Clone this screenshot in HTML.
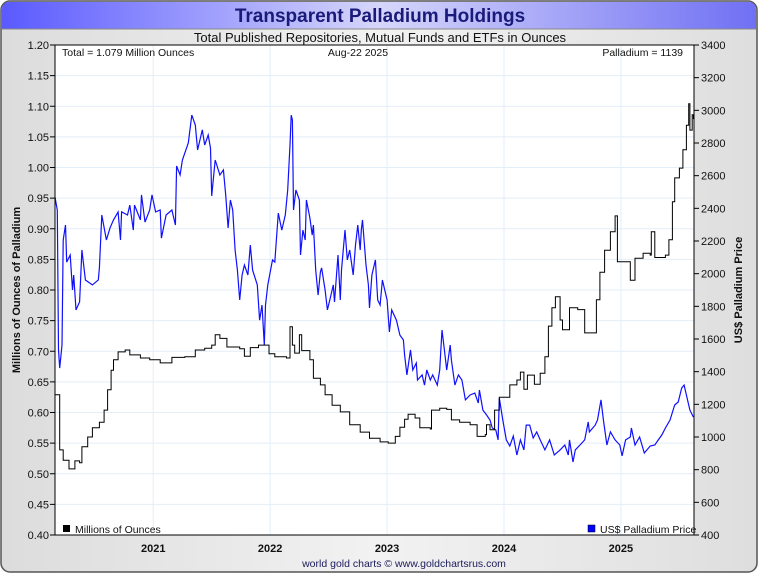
<!DOCTYPE html>
<html><head><meta charset="utf-8"><style>
html,body{margin:0;padding:0;background:#fff;}
#wrap{position:relative;width:760px;height:575px;overflow:hidden;font-family:"Liberation Sans",sans-serif;}
</style></head><body>
<div id="wrap">
<svg id="chart" width="760" height="575" xmlns="http://www.w3.org/2000/svg">
<defs>
<linearGradient id="hdr" x1="0" x2="1" y1="0" y2="0">
<stop offset="0" stop-color="#5a5aff"/><stop offset="0.5" stop-color="#d6d6fb"/><stop offset="1" stop-color="#7070f4"/>
</linearGradient>
<linearGradient id="bg" x1="0" x2="1" y1="0" y2="0">
<stop offset="0" stop-color="#dcdcdc"/><stop offset="0.5" stop-color="#f2f2f2"/><stop offset="1" stop-color="#dedede"/>
</linearGradient>
</defs>
<rect x="1" y="1" width="756" height="571" rx="9" fill="url(#bg)" stroke="#555" stroke-width="1.5"/>
<path d="M2,29 L2,10 Q2,2 10,2 L748,2 Q756,2 756,10 L756,29 Z" fill="url(#hdr)"/>
<line x1="2" y1="29" x2="756" y2="29" stroke="#888" stroke-width="1"/>
<text x="380" y="22" text-anchor="middle" font-size="19" font-weight="bold" fill="#1a1a7a">Transparent Palladium Holdings</text>
<text x="380" y="42" text-anchor="middle" font-size="13" fill="#111">Total Published Repositories, Mutual Funds and ETFs in Ounces</text>
<rect x="55" y="45" width="639" height="490" fill="#fff"/>
<g id="grid"></g>
<g id="series"></g>
<g id="axes"></g>
<text x="62" y="56" font-size="10.5" fill="#111">Total = 1.079 Million Ounces</text>
<text x="358" y="56" text-anchor="middle" font-size="10.5" fill="#111">Aug-22  2025</text>
<text x="683" y="56" text-anchor="end" font-size="10.5" fill="#111">Palladium = 1139</text>
<g><rect x="63" y="525" width="7" height="7" fill="#000"/><text x="75" y="533" font-size="10.5" fill="#111">Millions of Ounces</text></g>
<g><rect x="588" y="525" width="7" height="7" fill="#00f" stroke="#000" stroke-width="0.5"/><text x="600" y="533" font-size="10.5" fill="#111">US$ Palladium Price</text></g>
<text transform="translate(20,290) rotate(-90)" text-anchor="middle" font-size="11" font-weight="bold" fill="#111">Millions of Ounces of Palladium</text>
<text transform="translate(742,290) rotate(-90)" text-anchor="middle" font-size="11" font-weight="bold" fill="#111">US$ Palladium Price</text>
<text x="404" y="567" text-anchor="middle" font-size="10.5" fill="#1a1a5a">world gold charts © www.goldchartsrus.com</text>
</svg>
</div>
<script>
const leftTicks=[0.40,0.45,0.50,0.55,0.60,0.65,0.70,0.75,0.80,0.85,0.90,0.95,1.00,1.05,1.10,1.15,1.20];
const rightTicks=[400,600,800,1000,1200,1400,1600,1800,2000,2200,2400,2600,2800,3000,3200,3400];
const yearTicks=[2021,2022,2023,2024,2025];
const holdDates=[2020.16,2020.20,2020.23,2020.28,2020.33,2020.37,2020.39,2020.44,2020.48,2020.54,2020.58,2020.61,2020.64,2020.66,2020.70,2020.76,2020.80,2020.89,2020.97,2021.06,2021.16,2021.27,2021.36,2021.44,2021.50,2021.53,2021.57,2021.63,2021.74,2021.78,2021.83,2021.90,2021.99,2022.04,2022.14,2022.17,2022.19,2022.21,2022.25,2022.27,2022.34,2022.37,2022.43,2022.47,2022.53,2022.60,2022.68,2022.77,2022.85,2022.94,2023.01,2023.07,2023.11,2023.15,2023.18,2023.24,2023.28,2023.37,2023.38,2023.45,2023.51,2023.55,2023.62,2023.71,2023.77,2023.84,2023.85,2023.88,2023.92,2023.96,2024.03,2024.05,2024.11,2024.14,2024.17,2024.20,2024.26,2024.31,2024.35,2024.38,2024.41,2024.44,2024.48,2024.50,2024.56,2024.63,2024.69,2024.76,2024.79,2024.82,2024.86,2024.91,2024.95,2024.97,2025.06,2025.08,2025.12,2025.19,2025.25,2025.26,2025.29,2025.38,2025.41,2025.44,2025.46,2025.50,2025.53,2025.56,2025.58,2025.59,2025.61,2025.62];
const holdValues=[0.629,0.539,0.522,0.508,0.521,0.518,0.544,0.560,0.575,0.584,0.604,0.637,0.669,0.686,0.699,0.702,0.694,0.689,0.686,0.681,0.690,0.691,0.702,0.705,0.710,0.727,0.721,0.707,0.704,0.692,0.706,0.710,0.696,0.691,0.689,0.740,0.710,0.697,0.727,0.701,0.686,0.656,0.645,0.629,0.612,0.601,0.580,0.568,0.558,0.552,0.550,0.561,0.576,0.589,0.597,0.591,0.575,0.573,0.604,0.607,0.605,0.588,0.584,0.580,0.561,0.564,0.580,0.572,0.604,0.625,0.625,0.645,0.653,0.666,0.638,0.661,0.646,0.664,0.691,0.741,0.771,0.789,0.751,0.735,0.771,0.768,0.730,0.730,0.784,0.829,0.865,0.895,0.921,0.846,0.846,0.816,0.852,0.860,0.857,0.895,0.853,0.857,0.882,0.944,0.983,0.999,1.029,1.069,1.104,1.061,1.086,1.079];
const priceDates=[2020.16,2020.18,2020.19,2020.20,2020.22,2020.23,2020.25,2020.26,2020.29,2020.31,2020.32,2020.34,2020.37,2020.39,2020.42,2020.48,2020.53,2020.54,2020.56,2020.60,2020.63,2020.66,2020.70,2020.72,2020.73,2020.78,2020.80,2020.83,2020.84,2020.89,2020.90,2020.93,2020.97,2020.99,2021.02,2021.06,2021.07,2021.11,2021.16,2021.19,2021.20,2021.23,2021.25,2021.30,2021.33,2021.36,2021.38,2021.42,2021.44,2021.47,2021.49,2021.50,2021.53,2021.57,2021.60,2021.62,2021.64,2021.66,2021.68,2021.70,2021.72,2021.74,2021.76,2021.78,2021.81,2021.83,2021.85,2021.89,2021.91,2021.93,2021.95,2021.96,2021.98,2022.02,2022.04,2022.07,2022.10,2022.13,2022.15,2022.17,2022.18,2022.19,2022.20,2022.22,2022.25,2022.26,2022.28,2022.30,2022.31,2022.34,2022.36,2022.37,2022.39,2022.41,2022.43,2022.44,2022.47,2022.49,2022.51,2022.54,2022.55,2022.58,2022.60,2022.61,2022.64,2022.66,2022.68,2022.71,2022.73,2022.75,2022.77,2022.78,2022.79,2022.82,2022.84,2022.85,2022.87,2022.90,2022.92,2022.94,2022.96,2023.00,2023.02,2023.04,2023.08,2023.11,2023.14,2023.15,2023.17,2023.20,2023.22,2023.25,2023.26,2023.30,2023.32,2023.34,2023.37,2023.39,2023.43,2023.45,2023.47,2023.49,2023.51,2023.54,2023.55,2023.58,2023.61,2023.64,2023.67,2023.71,2023.75,2023.78,2023.79,2023.82,2023.85,2023.88,2023.90,2023.93,2023.95,2023.96,2023.99,2024.02,2024.05,2024.08,2024.11,2024.14,2024.17,2024.19,2024.22,2024.25,2024.28,2024.31,2024.35,2024.39,2024.43,2024.48,2024.52,2024.55,2024.56,2024.59,2024.61,2024.65,2024.69,2024.72,2024.73,2024.78,2024.80,2024.83,2024.85,2024.88,2024.91,2024.95,2024.99,2025.01,2025.04,2025.08,2025.09,2025.12,2025.16,2025.20,2025.25,2025.29,2025.32,2025.35,2025.38,2025.42,2025.46,2025.49,2025.52,2025.54,2025.56,2025.59,2025.62];
const priceValues=[2469,2390,1533,1422,1563,2206,2298,2071,2114,1900,1992,1778,1827,2145,1961,1931,1961,2035,2359,2206,2280,2329,2378,2206,2378,2359,2420,2267,2420,2329,2482,2316,2390,2482,2378,2390,2218,2359,2390,2298,2659,2604,2696,2800,2971,2910,2757,2880,2788,2849,2769,2476,2696,2604,2635,2482,2280,2451,2390,2145,2022,1839,1992,2053,1992,2175,2022,1931,1716,1808,1563,1808,1931,2084,2071,2371,2267,2359,2512,2788,2971,2941,2390,2512,2451,2114,2267,2206,2451,2341,2237,2298,2022,1869,2010,2035,1900,1778,1839,1931,1827,2114,1839,2022,2267,2084,2145,1992,2175,2298,2145,2267,2329,2053,1931,1790,1992,2084,1839,1808,1961,1839,1643,1778,1716,1624,1594,1502,1380,1533,1410,1453,1349,1380,1318,1410,1349,1380,1318,1410,1655,1533,1410,1563,1471,1318,1380,1349,1227,1257,1269,1208,1288,1165,1135,1104,1055,1043,982,1239,1104,982,945,1006,890,982,921,1073,1073,994,1031,982,921,982,890,921,951,890,982,847,921,951,982,1092,1031,1073,1104,1227,1104,951,1031,982,951,884,982,1000,1055,951,1000,902,945,951,982,1012,1055,1104,1196,1214,1300,1318,1257,1165,1122];

const NS='http://www.w3.org/2000/svg';
const L=55,R=694,T=45,B=535;
const x=d=>L+(d-2020.16)*(R-L)/(2025.625-2020.16);
const yL=v=>B-(v-0.40)*(B-T)/0.80;
const yR=v=>B-(v-400)*(B-T)/3000;
function mk(tag,attrs,parent){const e=document.createElementNS(NS,tag);for(const k in attrs)e.setAttribute(k,attrs[k]);parent.appendChild(e);return e;}
const grid=document.getElementById('grid'),axes=document.getElementById('axes'),series=document.getElementById('series');
leftTicks.forEach(v=>{
  const g=mk('line',{x1:L,x2:R,y1:yL(v),y2:yL(v),stroke:'#e2eef8','stroke-width':1},grid);
  
  
  mk('line',{x1:L-5,x2:L,y1:yL(v),y2:yL(v),stroke:'#000'},axes);
  const t=mk('text',{x:L-6,y:yL(v)+4,'text-anchor':'end','font-size':'11',fill:'#111'},axes);
  t.textContent=v.toFixed(2);
  
  
});
rightTicks.forEach(v=>{
  mk('line',{x1:R,x2:R+5,y1:yR(v),y2:yR(v),stroke:'#000'},axes);
  const t=mk('text',{x:R+7,y:yR(v)+4,'font-size':'11',fill:'#111'},axes);
  t.textContent=v;
  
  
});
yearTicks.forEach(yv=>{
  const g=mk('line',{x1:x(yv),x2:x(yv),y1:T,y2:B,stroke:'#e2eef8','stroke-width':1},grid);
  
  
  const t=mk('text',{x:x(yv),y:B+17,'text-anchor':'middle','font-size':'11','font-weight':'bold',fill:'#111'},axes);
  t.textContent=yv;
  
  
});
mk('line',{x1:L,x2:R,y1:T,y2:T,stroke:'#000'},axes);
mk('line',{x1:L,x2:R,y1:B,y2:B,stroke:'#000'},axes);
mk('line',{x1:L,x2:L,y1:T,y2:B,stroke:'#000'},axes);
mk('line',{x1:R,x2:R,y1:T,y2:B,stroke:'#000'},axes);
const pp=priceDates.map((d,i)=>x(d).toFixed(1)+','+yR(priceValues[i]).toFixed(1)).join(' ');
const pl=mk('polyline',{points:pp,fill:'none',stroke:'#1010ff','stroke-width':1.2},series);


const hpts=[];
holdDates.forEach((d,i)=>{
  if(i>0) hpts.push(x(d).toFixed(1)+','+yL(holdValues[i-1]).toFixed(1));
  hpts.push(x(d).toFixed(1)+','+yL(holdValues[i]).toFixed(1));
});
const hl=mk('polyline',{points:hpts.join(' '),fill:'none',stroke:'#000','stroke-width':1},series);


</script>
</body></html>
